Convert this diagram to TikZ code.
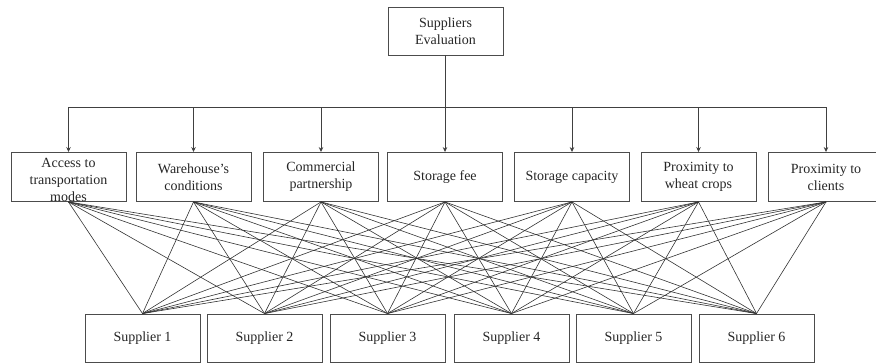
\documentclass[tikz,border=0pt]{standalone}
\usepackage{fontspec}
\setmainfont{Liberation Serif}
\usetikzlibrary{arrows.meta}
\begin{document}
\begin{tikzpicture}[x=1pt,y=1pt,
  txt/.style={align=center, text=black!85, inner sep=0pt, font=\fontsize{14}{17}\selectfont},
  box/.style={txt, draw=black!70, line width=0.9pt, minimum width=115pt, minimum height=48pt, inner sep=1pt},
  link/.style={draw=black!80, line width=0.6pt},
  arr/.style={draw=black!75, line width=0.8pt, -{Stealth[length=5pt,width=4.5pt]}}]
\useasboundingbox (0,0) rectangle (876,-364);
\node[box] (t) at (445.5,-31) {Suppliers\\Evaluation};
\coordinate (bus) at (445.5,-107);
\node[box, minimum height=49pt] (c1) at (68.5,-177) {};
\node[txt] (c1t) at ([yshift=-2.5pt]c1.center) {Access to\\transportation\\modes};
\node[box, minimum height=49pt] (c2) at (193.5,-177) {Warehouse's\\conditions};
\node[box, minimum height=49pt] (c3) at (321,-177) {Commercial\\partnership};
\node[box, minimum height=49pt] (c4) at (445,-177) {Storage fee};
\node[box, minimum height=49pt] (c5) at (572,-177) {Storage capacity};
\node[box, minimum height=49pt] (c6) at (698.5,-177) {Proximity to\\wheat crops};
\node[box, minimum height=49pt] (c7) at (826,-177) {Proximity to\\clients};
\node[box] (s1) at (142.5,-338) {Supplier 1};
\node[box] (s2) at (264.5,-338) {Supplier 2};
\node[box] (s3) at (387.5,-338) {Supplier 3};
\node[box] (s4) at (511.5,-338) {Supplier 4};
\node[box] (s5) at (633.5,-338) {Supplier 5};
\node[box] (s6) at (756.5,-338) {Supplier 6};
\foreach \c in {1,...,7} {
  \draw[arr] (t.south) -- (bus) -| (c\c.north);
  \foreach \s in {1,...,6} {
    \draw[link] (c\c.south) -- (s\s.north);
  }
}
\end{tikzpicture}
\end{document}
